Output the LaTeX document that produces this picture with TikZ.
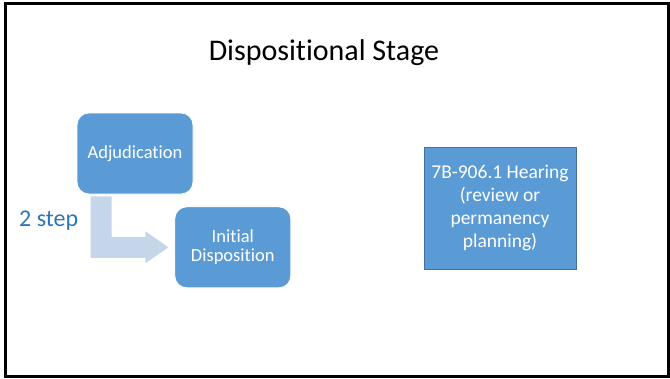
\documentclass[tikz,border=0pt]{standalone}
\usepackage{fontspec}
\setmainfont{Carlito}[Ligatures={NoCommon,NoContextual}]
\usetikzlibrary{positioning, calc}
\definecolor{boxblue}{HTML}{5B9BD5}
\definecolor{boxedge}{HTML}{41719C}
\definecolor{arrowblue}{HTML}{C5D5EA}
\definecolor{labelblue}{HTML}{2E75B6}

\begin{document}
\begin{tikzpicture}[x=1pt, y=-1pt,
  stage/.style={fill=boxblue, draw=white, line width=0.8pt, rounded corners=12pt, text=white, align=center,
    font=\fontsize{18.5}{19.5}\selectfont, minimum width=116pt, minimum height=81pt, inner sep=0pt},
  hearingbox/.style={fill=boxblue, draw=boxedge, line width=0.6pt, text=white, align=center,
    font=\fontsize{19.5}{23}\selectfont, minimum width=152pt, minimum height=122pt, inner sep=0pt}]
  \useasboundingbox (0,0) rectangle (670,378);
  \draw[line width=3pt] (5.5,3.5) rectangle (668.5,376.5);
  \node[font=\fontsize{30}{36}\selectfont, anchor=base, inner sep=0pt] (title) at (324,60) {Dispositional Stage};
  \node[stage] (adj) at (135,153.5) {Adjudication};
  \node[stage, below right=12pt and -19pt of adj] (init) {Initial\\Disposition};
  \node[hearingbox] (hearing) at (500,208) {7B-906.1 Hearing\\(review or\\permanency\\planning)};
  \fill[arrowblue] let \p1=(adj.south west), \p2=(init.west) in
    (\x1+14pt,\y1-2pt) -- (\x1+35pt,\y1-2pt) -- (\x1+35pt,\y2+10.5pt) -- (\x2-29pt,\y2+10.5pt)
    -- (\x2-29pt,\y2+16pt) -- (\x2-6pt,\y2) -- (\x2-29pt,\y2-16pt) -- (\x2-29pt,\y2-10.5pt)
    -- (\x1+14pt,\y2-10.5pt) -- cycle;
  \node[anchor=base west, inner sep=0pt, text=labelblue, font=\fontsize{24}{28}\selectfont] (steps) at (19,226) {2 step};
\end{tikzpicture}
\end{document}
